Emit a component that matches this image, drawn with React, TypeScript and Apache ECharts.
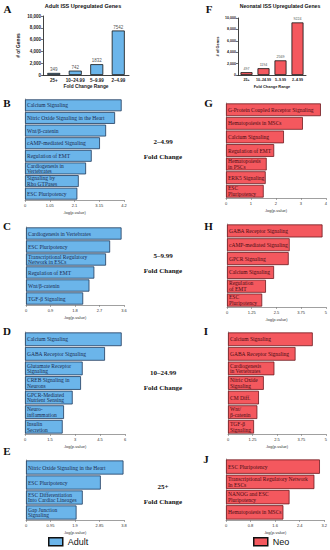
import React, { useEffect, useRef } from "react";
import * as echarts from "echarts";

// ---- Data ----
const foldRanges = ["25+", "10–24.99", "5–9.99", "2–4.99"];
const adultGeneCounts = [349, 742, 1832, 7542];
const neoGeneCounts = [497, 1194, 2569, 9224];

const bCats = ["Calcium Signaling", "Nitric Oxide Signaling in the Heart", "Wnt/β-catenin", "cAMP-mediated Signaling", "Regulation of EMT", "Cardiogenesis in\nVertebrates", "Signaling by\nRho GTPases", "ESC Pluripotency"];
const bVals = [4.1, 3.82, 3.44, 3.18, 2.83, 2.59, 2.28, 2.22];

const gCats = ["G-Protein Coupled Receptor Signaling", "Hematopoiesis in MSCs", "Calcium Signaling", "Regulation of EMT", "Hematopoiesis\nin PSCs", "ERK5 Signaling", "ESC\nPluripotency"];
const gVals = [3.8, 3.08, 2.32, 1.93, 1.63, 1.59, 1.51];

const cCats = ["Cardiogenesis in Vertebrates", "ESC Pluripotency", "Transcriptional Regulatory\nNetwork in ESCs", "Regulation of EMT", "Wnt/β-catenin", "TGF-β Signaling"];
const cVals = [3.51, 3.09, 2.94, 2.51, 2.33, 2.1];

const hCats = ["GABA Receptor Signaling", "cAMP-mediated Signaling", "GPCR Signaling", "Calcium Signaling", "Regulation\nof EMT", "ESC\nPluripotency"];
const hVals = [4.83, 3.17, 3.12, 2.38, 1.97, 1.78];

const dCats = ["Calcium Signaling", "GABA Receptor Signaling", "Glutamate Receptor\nSignaling", "CREB Signaling in\nNeurons", "GPCR-Mediated\nNutrient Sensing", "Neuro-\ninflammation", "Insulin\nSecretion"];
const dVals = [5.8, 4.8, 3.46, 3.36, 2.86, 2.34, 2.26];

const iCats = ["Calcium Signaling", "GABA Receptor Signaling", "Cardiogenesis\nin Vertebrates", "Nitric Oxide\nSignaling", "CM Diff.", "Wnt/\nβ-catenin", "TGF-β\nSignaling"];
const iVals = [4.33, 3.45, 2.37, 1.83, 1.58, 1.5, 1.33];

const eCats = ["Nitric Oxide Signaling in the Heart", "ESC Pluripotency", "ESC Differentiation\nInto Cardiac Lineages", "Gap Junction\nSignaling"];
const eVals = [3.78, 2.9, 2.2, 1.96];

const jCats = ["ESC Pluripotency", "Transcriptional Regulatory Network\nIn ESCs", "NANOG and ESC\nPluripotency", "Hematopoiesis in MSCs"];
const jVals = [3.06, 2.88, 2.07, 1.87];

const rangeLabels = ["2–4.99", "5–9.99", "10–24.99", "25+"];

// ---- Styles ----
const ADULT_FILL = "#6bb5ea";
const ADULT_EDGE = "#1f3a5c";
const ADULT_TEXT = "#1a2b50";
const NEO_FILL = "#f4585e";
const NEO_EDGE = "#6e1a1f";
const NEO_TEXT = "#4a0c12";
const SERIF = "Liberation Serif";
const SANS = "Liberation Sans";

export default function App() {
  const ref = useRef<HTMLDivElement>(null);
  useEffect(() => {
    document.body.style.margin = "0";
    const chart = echarts.init(ref.current!, undefined, { renderer: "svg" });

    const grid: any[] = [];
    const xAxis: any[] = [];
    const yAxis: any[] = [];
    const series: any[] = [];

    // Column panels A and F
    const colPanels = [
      { vals: adultGeneCounts, adult: true, left: 43, top: 16, width: 86, height: 59, fs: 4.5 },
      { vals: neoGeneCounts, adult: false, left: 238, top: 18, width: 68, height: 57, fs: 3.6 },
    ];
    colPanels.forEach((p) => {
      const g = grid.length;
      grid.push({ left: p.left, top: p.top, width: p.width, height: p.height });
      xAxis.push({
        gridIndex: g, type: "category", data: foldRanges,
        axisLine: { lineStyle: { color: "#111", width: 0.8 } },
        axisTick: { show: false },
        axisLabel: { interval: 0, fontSize: p.fs, color: "#222", margin: 3, fontFamily: SANS, fontWeight: "bold" },
        name: "Fold Change Range", nameLocation: "middle", nameGap: 9,
        nameTextStyle: { fontSize: p.fs + 0.3, fontWeight: "bold", color: "#222", fontFamily: SANS },
      });
      yAxis.push({
        gridIndex: g, type: "value", min: 0, max: 10000, interval: 2000,
        axisLine: { show: true, lineStyle: { color: "#111", width: 0.8 } },
        axisTick: { show: true, length: 2, lineStyle: { color: "#111", width: 0.6 } },
        axisLabel: { fontSize: p.fs, color: "#222", margin: 2, fontFamily: SANS, fontWeight: "bold",
          formatter: (v: number) => v.toLocaleString("en-US") },
        splitLine: { show: false },
        name: "# of Genes", nameLocation: "middle", nameRotate: 90, nameGap: p.adult ? 22 : 19,
        nameTextStyle: { fontSize: p.fs + 0.3, fontWeight: "bold", color: "#222", fontFamily: SANS },
      });
      series.push({
        type: "bar", name: p.adult ? "Adult" : "Neo", xAxisIndex: g, yAxisIndex: g, data: p.vals,
        barWidth: p.adult ? 13 : 12,
        itemStyle: { color: p.adult ? ADULT_FILL : NEO_FILL, borderColor: "#111", borderWidth: 0.8 },
        label: { show: true, position: "top", distance: 1, fontSize: p.fs, color: "#555", fontFamily: SANS },
      });
    });

    // Horizontal bar panels
    const hPanels = [
      { cats: bCats, vals: bVals, max: 4.2, step: 1.05, adult: true, left: 25, top: 99, width: 99, height: 101 },
      { cats: gCats, vals: gVals, max: 4, step: 1, adult: false, left: 226, top: 103, width: 100, height: 95 },
      { cats: cCats, vals: cVals, max: 3.6, step: 0.9, adult: true, left: 26, top: 227, width: 98, height: 78 },
      { cats: hCats, vals: hVals, max: 5, step: 1.25, adult: false, left: 227, top: 224, width: 100, height: 83 },
      { cats: dCats, vals: dVals, max: 6, step: 1.5, adult: true, left: 25, top: 332, width: 100, height: 102 },
      { cats: iCats, vals: iVals, max: 5, step: 1.25, adult: false, left: 228, top: 332, width: 100, height: 102 },
      { cats: eCats, vals: eVals, max: 3.8, step: 0.95, adult: true, left: 26, top: 460, width: 98, height: 60 },
      { cats: jCats, vals: jVals, max: 3.2, step: 0.8, adult: false, left: 226, top: 459, width: 100, height: 61 },
    ];
    hPanels.forEach((p) => {
      const g = grid.length;
      grid.push({ left: p.left, top: p.top, width: p.width, height: p.height });
      xAxis.push({
        gridIndex: g, type: "value", min: 0, max: p.max, interval: p.step,
        axisLine: { show: true, lineStyle: { color: "#777", width: 0.7 } },
        axisTick: { show: true, length: 2, lineStyle: { color: "#777", width: 0.6 } },
        axisLabel: { fontSize: 4, color: "#333", margin: 3, fontFamily: SANS,
          formatter: (v: number) => String(+v.toFixed(2)) },
        splitLine: { show: false },
        name: "-log(p-value)", nameLocation: "middle", nameGap: 10,
        nameTextStyle: { fontSize: 4, color: "#333", fontFamily: SANS },
      });
      yAxis.push({
        gridIndex: g, type: "category", data: p.cats, inverse: true,
        axisLine: { show: true, lineStyle: { color: "#777", width: 0.7 } },
        axisTick: { show: false }, axisLabel: { show: false },
      });
      series.push({
        type: "bar", name: p.adult ? "Adult" : "Neo", xAxisIndex: g, yAxisIndex: g, data: p.vals,
        barCategoryGap: "6%",
        itemStyle: { color: p.adult ? ADULT_FILL : NEO_FILL, borderColor: p.adult ? ADULT_EDGE : NEO_EDGE, borderWidth: 0.8 },
        label: { show: true, position: "insideLeft", distance: 2, formatter: "{b}",
          fontFamily: SERIF, fontSize: 5.5, lineHeight: 5.8, color: p.adult ? ADULT_TEXT : NEO_TEXT },
      });
    });

    const txt = (x: number, y: number, text: string, size: number, extra: any = {}) => ({
      type: "text", x, y,
      style: { text, fontSize: size, fontFamily: SERIF, fontWeight: "bold", fill: "#111",
        textAlign: "center", textVerticalAlign: "middle", ...extra },
    });

    const letters: [string, number, number][] = [
      ["A", 7.5, 9], ["F", 209, 9], ["B", 7, 103], ["G", 208.5, 103],
      ["C", 7, 226], ["H", 208.5, 226], ["D", 7, 331], ["I", 206, 331],
      ["E", 7, 451], ["J", 206, 459],
    ];
    const rangeY = [142, 256, 373, 487];
    const graphic: any[] = [
      ...letters.map(([t, x, y]) => txt(x, y, t, 11)),
      txt(83, 6, "Adult ISS Upregulated Genes", 5.5, { fontFamily: SANS }),
      txt(280, 6, "Neonatal ISS Upregulated Genes", 5.2, { fontFamily: SANS }),
      ...rangeLabels.flatMap((r, k) => [
        txt(163, rangeY[k], r, 7),
        txt(163, rangeY[k] + 15, "Fold Change", 7),
      ]),
    ];

    const legendCommon = {
      icon: "rect", itemWidth: 14, itemHeight: 8, top: 537, padding: 0, selectedMode: false,
      itemStyle: { borderColor: "#111", borderWidth: 1.5 },
      textStyle: { fontFamily: SANS, fontSize: 9, lineHeight: 9, color: "#111", padding: [0, 0, 0, 0] },
    };

    chart.setOption({
      animation: false,
      grid, xAxis, yAxis, series, graphic,
      legend: [
        { ...legendCommon, left: 48, data: ["Adult"] },
        { ...legendCommon, left: 253, data: ["Neo"] },
      ],
    });
    return () => chart.dispose();
  }, []);
  return <div ref={ref} style={{ width: 330, height: 550 }} />;
}
